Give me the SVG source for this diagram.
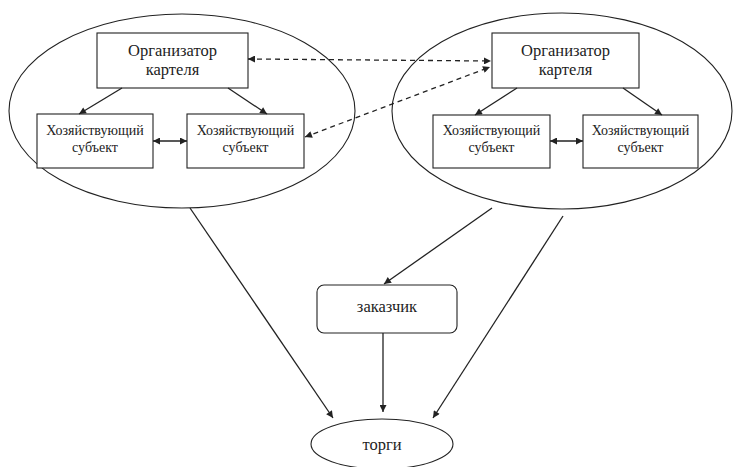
<svg xmlns="http://www.w3.org/2000/svg" width="735" height="467" viewBox="0 0 735 467">
<style>
.sh{fill:none;stroke:#222;stroke-width:1.1}
.bx{fill:#fff;stroke:#222;stroke-width:1.1}
.ln{stroke:#222;stroke-width:1.3;fill:none}
.ds{stroke:#222;stroke-width:1.3;fill:none;stroke-dasharray:5,4}
.t1{font-family:"Liberation Serif","Times New Roman",serif;font-size:16.5px;fill:#222;text-anchor:middle}
.t2{font-family:"Liberation Serif","Times New Roman",serif;font-size:14px;fill:#222;text-anchor:middle}
</style>
<defs>
<marker id="a" viewBox="0 0 10 10" refX="10" refY="5" markerWidth="8" markerHeight="7" markerUnits="userSpaceOnUse" orient="auto-start-reverse">
<path d="M0,0 L10,5 L0,10 z" fill="#222"/>
</marker>
</defs>
<rect width="735" height="467" fill="#fff"/>
<g id="cluster-left">
<ellipse class="sh" cx="182" cy="111" rx="173" ry="97"/>
</g>
<g id="cluster-right">
<ellipse class="sh" cx="562" cy="111" rx="170" ry="98"/>
</g>
<g id="org-left">
<rect class="bx" x="97" y="33" width="151" height="55"/>
<text class="t1" x="172.5" y="56">Организатор</text>
<text class="t1" x="172.5" y="75">картеля</text>
</g>
<g id="sub-left-1">
<rect class="bx" x="37" y="114" width="116" height="54"/>
<text class="t2" x="95" y="135">Хозяйствующий</text>
<text class="t2" x="95" y="152">субъект</text>
</g>
<g id="sub-left-2">
<rect class="bx" x="187" y="114" width="117" height="54"/>
<text class="t2" x="245.5" y="135">Хозяйствующий</text>
<text class="t2" x="245.5" y="152">субъект</text>
</g>
<g id="org-right">
<rect class="bx" x="492" y="33" width="147" height="55"/>
<text class="t1" x="565.5" y="56">Организатор</text>
<text class="t1" x="565.5" y="75">картеля</text>
</g>
<g id="sub-right-1">
<rect class="bx" x="433" y="115" width="117" height="53"/>
<text class="t2" x="491.5" y="135">Хозяйствующий</text>
<text class="t2" x="491.5" y="152">субъект</text>
</g>
<g id="sub-right-2">
<rect class="bx" x="583" y="115" width="115" height="53"/>
<text class="t2" x="640.5" y="135">Хозяйствующий</text>
<text class="t2" x="640.5" y="152">субъект</text>
</g>
<g id="customer">
<rect class="bx" x="317" y="285" width="140" height="48" rx="7"/>
<text class="t1" x="387" y="312">заказчик</text>
</g>
<g id="auction">
<ellipse class="bx" cx="382" cy="444" rx="71" ry="25"/>
<text class="t1" x="382" y="450">торги</text>
</g>
<g id="connectors">
<line class="ln" x1="122" y1="88" x2="79" y2="114" marker-end="url(#a)"/>
<line class="ln" x1="228" y1="88" x2="267" y2="114" marker-end="url(#a)"/>
<line class="ln" x1="153" y1="141" x2="187" y2="141" marker-start="url(#a)" marker-end="url(#a)"/>
<line class="ln" x1="517" y1="88" x2="475" y2="115" marker-end="url(#a)"/>
<line class="ln" x1="623" y1="88" x2="662" y2="115" marker-end="url(#a)"/>
<line class="ln" x1="550" y1="141" x2="583" y2="141" marker-start="url(#a)" marker-end="url(#a)"/>
<line class="ds" x1="248" y1="59" x2="491" y2="61" marker-start="url(#a)" marker-end="url(#a)"/>
<line class="ds" x1="305" y1="137" x2="490" y2="67" marker-start="url(#a)" marker-end="url(#a)"/>
<line class="ln" x1="190" y1="208" x2="333" y2="418" marker-end="url(#a)"/>
<line class="ln" x1="492" y1="208" x2="384" y2="284" marker-end="url(#a)"/>
<line class="ln" x1="563" y1="216" x2="433" y2="418" marker-end="url(#a)"/>
<line class="ln" x1="383" y1="333" x2="383" y2="412" marker-end="url(#a)"/>
</g>
</svg>
